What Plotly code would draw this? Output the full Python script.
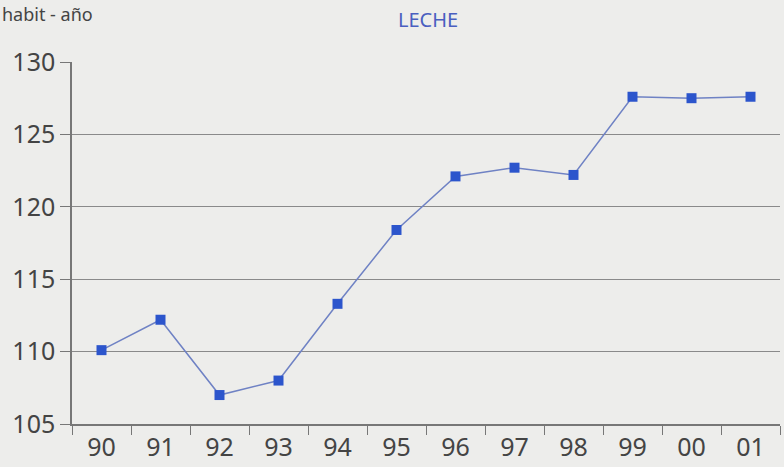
import plotly.graph_objects as go

years = ["90", "91", "92", "93", "94", "95", "96", "97", "98", "99", "00", "01"]
leche = [110.1, 112.2, 107.0, 108.0, 113.3, 118.4, 122.1, 122.7, 122.2, 127.6, 127.5, 127.6]
y_ticks = [105, 110, 115, 120, 125, 130]

W, H = 784, 467

fig = go.Figure()
fig.add_trace(go.Scatter(
    x=years, y=leche, mode="lines+markers",
    line=dict(color="#6f82c4", width=1.5),
    marker=dict(symbol="square", size=10, color="#2c55cc"),
    showlegend=False,
))

fig.update_layout(
    width=W, height=H,
    margin=dict(l=72, r=4, t=62, b=39),
    paper_bgcolor="#ededeb", plot_bgcolor="#ededeb",
    font=dict(family="Noto Sans, DejaVu Sans", color="#444444", size=24),
    title=dict(text="LECHE", x=428 / W, xanchor="center", y=1 - 20 / H, yanchor="middle",
               font=dict(size=20, color="#4a5fc0")),
    xaxis=dict(type="category", tickson="boundaries", ticks="outside", ticklen=9,
               tickcolor="#777777", showline=True, linecolor="#777777", linewidth=1.5,
               showgrid=False, tickfont=dict(size=25, color="#444444"),
               range=[-0.5, 11.5]),
    yaxis=dict(range=[105, 130], tickvals=y_ticks, ticks="outside", ticklen=10,
               tickcolor="#777777", showline=True, linecolor="#777777", linewidth=1.5,
               showgrid=True, gridcolor="#8a8a8a", gridwidth=1.2,
               zeroline=False, tickfont=dict(size=25, color="#444444")),
    annotations=[dict(text="habit - año", x=0, y=1.0, xref="paper", yref="paper",
                      xanchor="left", yanchor="top", showarrow=False,
                      xshift=-72, yshift=62,
                      font=dict(size=18, color="#444444"))],
)

fig.write_html("out.html", config={"displayModeBar": False},
               post_script="document.body.style.margin='0';")
